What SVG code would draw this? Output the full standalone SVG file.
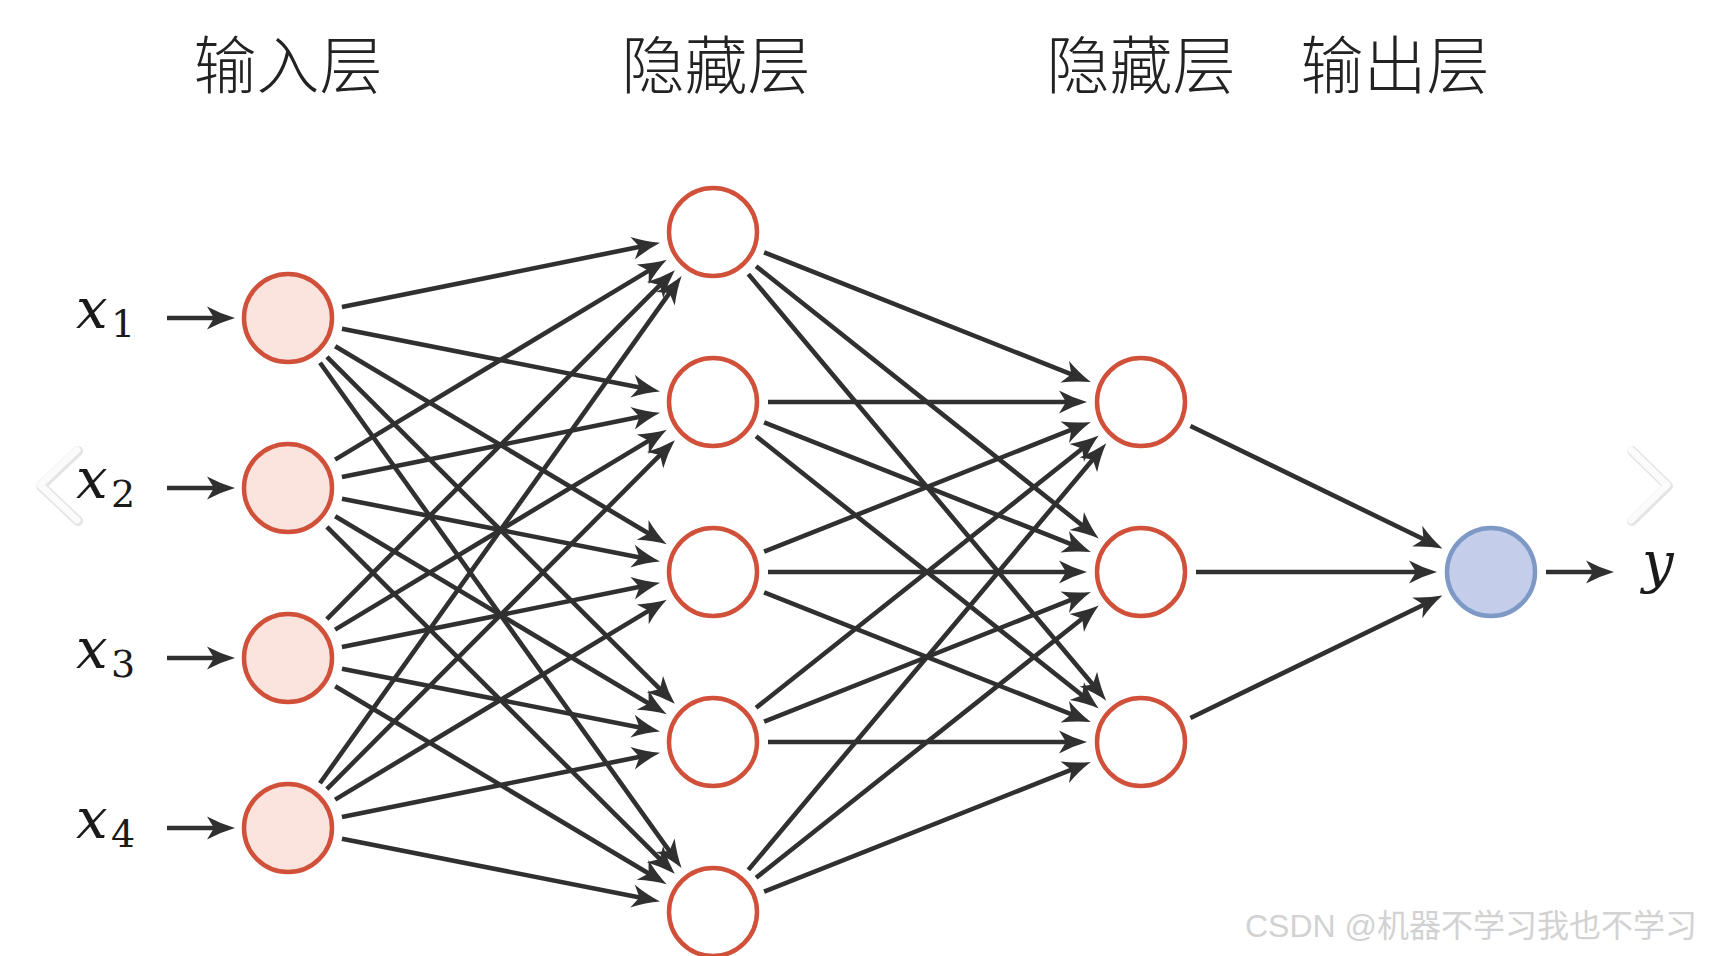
<svg xmlns="http://www.w3.org/2000/svg" width="1709" height="956" viewBox="0 0 1709 956">
<style>
  .edge { stroke: #303030; stroke-width: 4.6; fill: none; marker-end: url(#arr); }
  .node-in { fill: #fbe4de; stroke: #d0503a; stroke-width: 4.5; }
  .node-h { fill: #ffffff; stroke: #d0503a; stroke-width: 4.5; }
  .node-out { fill: #c4cdea; stroke: #7f99c6; stroke-width: 4.5; }
  .head { font-family: "Noto Sans CJK SC", "Noto Sans", sans-serif; font-size: 63px; font-weight: 300; fill: #222; text-anchor: middle; }
  .var { font-family: "DejaVu Serif", "Liberation Serif", serif; font-style: italic; font-size: 56px; fill: #1a1a1a; }
  .sub { font-family: "DejaVu Serif", "Liberation Serif", serif; font-size: 38px; fill: #1a1a1a; }
  .wm { font-family: "Liberation Sans", "Noto Sans CJK SC", sans-serif; font-size: 32px; fill: #d2d2d2; }
  .chev-s { fill: none; stroke: #e4e4e4; stroke-width: 10; stroke-linecap: round; stroke-linejoin: round; }
  .chev { fill: none; stroke: #fbfbfb; stroke-width: 7; stroke-linecap: round; stroke-linejoin: round; }
</style>
<defs>
  <marker id="arr" markerUnits="userSpaceOnUse" viewBox="-12 -12 32 24" refX="0" refY="0" markerWidth="32" markerHeight="24" orient="auto" overflow="visible">
    <path d="M18,0 Q4,-4 -10,-11.5 L-3,0 L-10,11.5 Q4,4 18,0 Z" fill="#303030"/>
  </marker>
</defs>
<rect x="0" y="0" width="1709" height="956" fill="#ffffff"/>

<!-- carousel chevrons -->
<polyline class="chev-s" points="78,451 41,486 78,521"/>
<polyline class="chev" points="77,450 40,485 77,520"/>
<polyline class="chev-s" points="1632,451 1668,486 1632,521"/>
<polyline class="chev" points="1631,450 1667,485 1631,520"/>

<!-- headers -->
<g id="labels-top">
  <text class="head" x="288" y="88">输入层</text>
  <text class="head" x="716" y="88">隐藏层</text>
  <text class="head" x="1141" y="88">隐藏层</text>
  <text class="head" x="1395" y="88">输出层</text>
</g>

<g id="connectors">
  <!-- inputs -->
  <line class="edge" x1="167" y1="318" x2="217" y2="318"/>
  <line class="edge" x1="167" y1="488" x2="217" y2="488"/>
  <line class="edge" x1="167" y1="658" x2="217" y2="658"/>
  <line class="edge" x1="167" y1="828" x2="217" y2="828"/>
  <!-- input -> hidden1 -->
  <line class="edge" x1="341.91" y1="307.09" x2="642.43" y2="246.28"/>
  <line class="edge" x1="341.96" y1="328.66" x2="642.37" y2="388.04"/>
  <line class="edge" x1="335.21" y1="346.22" x2="651.20" y2="535.06"/>
  <line class="edge" x1="326.94" y1="356.85" x2="662.03" y2="691.15"/>
  <line class="edge" x1="320.00" y1="362.73" x2="671.10" y2="853.44"/>

  <line class="edge" x1="335.11" y1="459.62" x2="651.32" y2="269.15"/>
  <line class="edge" x1="341.91" y1="477.09" x2="642.43" y2="416.28"/>
  <line class="edge" x1="341.96" y1="498.66" x2="642.37" y2="558.04"/>
  <line class="edge" x1="335.21" y1="516.22" x2="651.20" y2="705.06"/>
  <line class="edge" x1="326.94" y1="526.85" x2="662.03" y2="861.15"/>

  <line class="edge" x1="326.84" y1="619.06" x2="662.15" y2="282.97"/>
  <line class="edge" x1="335.11" y1="629.62" x2="651.32" y2="439.15"/>
  <line class="edge" x1="341.91" y1="647.09" x2="642.43" y2="586.28"/>
  <line class="edge" x1="341.96" y1="668.66" x2="642.37" y2="728.04"/>
  <line class="edge" x1="335.21" y1="686.22" x2="651.20" y2="875.06"/>

  <line class="edge" x1="319.93" y1="783.22" x2="671.20" y2="290.62"/>
  <line class="edge" x1="326.84" y1="789.06" x2="662.15" y2="452.97"/>
  <line class="edge" x1="335.11" y1="799.62" x2="651.32" y2="609.15"/>
  <line class="edge" x1="341.91" y1="817.09" x2="642.43" y2="756.28"/>
  <line class="edge" x1="341.96" y1="838.66" x2="642.37" y2="898.04"/>
  <!-- hidden1 -> hidden2 -->
  <line class="edge" x1="764.12" y1="252.30" x2="1074.09" y2="375.42"/>
  <line class="edge" x1="756.07" y1="266.21" x2="1084.62" y2="527.21"/>
  <line class="edge" x1="748.36" y1="274.13" x2="1094.72" y2="686.85"/>

  <line class="edge" x1="768" y1="402" x2="1069" y2="402"/>
  <line class="edge" x1="764.12" y1="422.30" x2="1074.09" y2="545.42"/>
  <line class="edge" x1="756.07" y1="436.21" x2="1084.62" y2="697.21"/>

  <line class="edge" x1="764.12" y1="551.70" x2="1074.09" y2="428.58"/>
  <line class="edge" x1="768" y1="572" x2="1069" y2="572"/>
  <line class="edge" x1="764.12" y1="592.30" x2="1074.09" y2="715.42"/>

  <line class="edge" x1="756.07" y1="707.79" x2="1084.62" y2="446.79"/>
  <line class="edge" x1="764.12" y1="721.70" x2="1074.09" y2="598.58"/>
  <line class="edge" x1="768" y1="742" x2="1069" y2="742"/>

  <line class="edge" x1="748.36" y1="869.87" x2="1094.72" y2="457.15"/>
  <line class="edge" x1="756.07" y1="877.79" x2="1084.62" y2="616.79"/>
  <line class="edge" x1="764.12" y1="891.70" x2="1074.09" y2="768.58"/>
  <!-- hidden2 -> output -->
  <line class="edge" x1="1190.47" y1="426.03" x2="1426.24" y2="540.54"/>
  <line class="edge" x1="1196" y1="572" x2="1419" y2="572"/>
  <line class="edge" x1="1190.47" y1="717.97" x2="1426.24" y2="603.46"/>
  <!-- output arrow -->
  <line class="edge" x1="1546" y1="572" x2="1596" y2="572"/>
</g>

<!-- input labels -->
<g id="input-labels">
  <text class="var" x="76" y="328">x</text><text class="sub" x="111" y="337">1</text>
  <text class="var" x="76" y="498">x</text><text class="sub" x="111" y="507">2</text>
  <text class="var" x="76" y="668">x</text><text class="sub" x="111" y="677">3</text>
  <text class="var" x="76" y="838">x</text><text class="sub" x="111" y="847">4</text>
</g>

<g id="in1"><circle class="node-in" cx="288" cy="318" r="44"/></g>
<g id="in2"><circle class="node-in" cx="288" cy="488" r="44"/></g>
<g id="in3"><circle class="node-in" cx="288" cy="658" r="44"/></g>
<g id="in4"><circle class="node-in" cx="288" cy="828" r="44"/></g>

<g id="h1-1"><circle class="node-h" cx="713" cy="232" r="44"/></g>
<g id="h1-2"><circle class="node-h" cx="713" cy="402" r="44"/></g>
<g id="h1-3"><circle class="node-h" cx="713" cy="572" r="44"/></g>
<g id="h1-4"><circle class="node-h" cx="713" cy="742" r="44"/></g>
<g id="h1-5"><circle class="node-h" cx="713" cy="912" r="44"/></g>

<g id="h2-1"><circle class="node-h" cx="1141" cy="402" r="44"/></g>
<g id="h2-2"><circle class="node-h" cx="1141" cy="572" r="44"/></g>
<g id="h2-3"><circle class="node-h" cx="1141" cy="742" r="44"/></g>

<g id="out"><circle class="node-out" cx="1491" cy="572" r="44"/></g>
<g id="out-label"><text class="var" x="1642" y="582">y</text></g>

<text class="wm" x="1245" y="937">CSDN @机器不学习我也不学习</text>
</svg>
